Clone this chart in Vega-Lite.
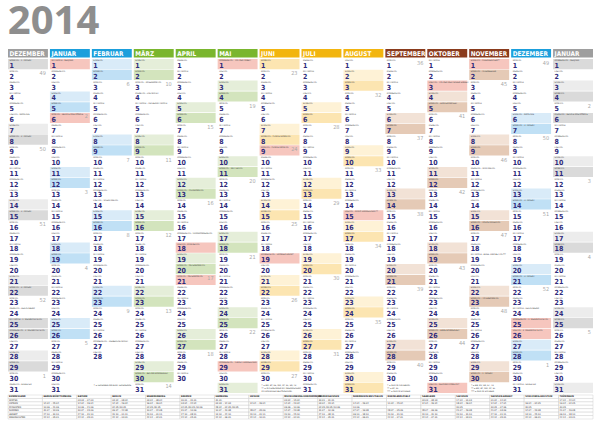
{
"$schema":"https://vega.github.io/schema/vega-lite/v6.json",
"background":"white",
"padding":{"left":7,"top":2,"right":0,"bottom":0},
"title":{"text":"2014","anchor":"start","fontSize":40,"font":"Open Sans","fontWeight":"bold","color":"#8e8e8e","offset":7},
"config":{"view":{"stroke":null},"locale":{"time":{"dateTime":"%A, %e. %B %Y, %X","date":"%d.%m.%Y","time":"%H:%M:%S","periods":["AM","PM"],"days":["SONNTAG","MONTAG","DIENSTAG","MITTWOCH","DONNERSTAG","FREITAG","SAMSTAG"],"shortDays":["So","Mo","Di","Mi","Do","Fr","Sa"],"months":["JANUAR","FEBRUAR","MÄRZ","APRIL","MAI","JUNI","JULI","AUGUST","SEPTEMBER","OKTOBER","NOVEMBER","DEZEMBER"],"shortMonths":["Jan","Feb","Mär","Apr","Mai","Jun","Jul","Aug","Sep","Okt","Nov","Dez"]}}},
"vconcat":[
{"vconcat":[
{"width":585,"height":8.5,
"data":{"values":[{"d":"2013/12/01"},{"d":"2014/01/01"},{"d":"2014/02/01"},{"d":"2014/03/01"},{"d":"2014/04/01"},{"d":"2014/05/01"},{"d":"2014/06/01"},{"d":"2014/07/01"},{"d":"2014/08/01"},{"d":"2014/09/01"},{"d":"2014/10/01"},{"d":"2014/11/01"},{"d":"2014/12/01"},{"d":"2015/01/01"}],"format":{"parse":{"d":"date"}}},
"encoding":{"x":{"field":"d","timeUnit":"yearmonth","type":"ordinal","axis":null,"scale":{"paddingInner":0.048,"paddingOuter":0}}},
"layer":[
{"mark":{"type":"rect"},"encoding":{"fill":{"field":"d","timeUnit":"yearmonth","type":"ordinal","legend":null,"scale":{"range":["#9e9e9e","#1b9fdc","#1b9fdc","#7ab62e","#7ab62e","#7ab62e","#f2b50f","#f2b50f","#f2b50f","#8a3b1d","#8a3b1d","#8a3b1d","#1b9fdc","#9e9e9e"]}}}},
{"mark":{"type":"text","align":"left","baseline":"middle","dx":1.5,"dy":0.5,"fontSize":6.4,"fontWeight":"bold","fill":"white","font":"DejaVu Sans Condensed, sans-serif"},"encoding":{"x":{"field":"d","timeUnit":"yearmonth","type":"ordinal","axis":null,"bandPosition":0},"text":{"field":"d","type":"temporal","format":"%B"}}}
]},
{"width":585,"height":334,
"data":{"values":[
{"d":"2013/12/01","f":"SONNTAG · 1. ADVENT"},{"d":"2013/12/02"},{"d":"2013/12/03"},{"d":"2013/12/04"},{"d":"2013/12/05"},{"d":"2013/12/06","f":"FREITAG · NIKOLAUS"},{"d":"2013/12/07"},{"d":"2013/12/08","f":"SONNTAG · 2. ADVENT"},{"d":"2013/12/09"},{"d":"2013/12/10"},{"d":"2013/12/11"},{"d":"2013/12/12"},{"d":"2013/12/13"},{"d":"2013/12/14"},{"d":"2013/12/15","f":"SONNTAG · 3. ADVENT"},{"d":"2013/12/16"},{"d":"2013/12/17"},{"d":"2013/12/18"},{"d":"2013/12/19"},{"d":"2013/12/20"},{"d":"2013/12/21"},{"d":"2013/12/22","f":"SONNTAG · 4. ADVENT"},{"d":"2013/12/23"},{"d":"2013/12/24","f":"DIENSTAG · HEILIGABEND"},{"d":"2013/12/25","f":"MITTWOCH · 1. WEIHNACHTSTAG","h":1},{"d":"2013/12/26","f":"DONNERSTAG · 2. WEIHNACHTSTAG","h":1},{"d":"2013/12/27"},{"d":"2013/12/28"},{"d":"2013/12/29"},{"d":"2013/12/30"},{"d":"2013/12/31","f":"DIENSTAG · SILVESTER"},
{"d":"2014/01/01","f":"MITTWOCH · NEUJAHR","h":1},{"d":"2014/01/02"},{"d":"2014/01/03"},{"d":"2014/01/04"},{"d":"2014/01/05"},{"d":"2014/01/06","f":"MONTAG · HEILIGE DREI KÖNIGE","h":1},{"d":"2014/01/07"},{"d":"2014/01/08"},{"d":"2014/01/09"},{"d":"2014/01/10"},{"d":"2014/01/11"},{"d":"2014/01/12"},{"d":"2014/01/13"},{"d":"2014/01/14"},{"d":"2014/01/15"},{"d":"2014/01/16"},{"d":"2014/01/17"},{"d":"2014/01/18"},{"d":"2014/01/19"},{"d":"2014/01/20"},{"d":"2014/01/21"},{"d":"2014/01/22"},{"d":"2014/01/23"},{"d":"2014/01/24"},{"d":"2014/01/25"},{"d":"2014/01/26"},{"d":"2014/01/27"},{"d":"2014/01/28"},{"d":"2014/01/29"},{"d":"2014/01/30"},{"d":"2014/01/31"},
{"d":"2014/02/01"},{"d":"2014/02/02"},{"d":"2014/02/03"},{"d":"2014/02/04"},{"d":"2014/02/05"},{"d":"2014/02/06"},{"d":"2014/02/07"},{"d":"2014/02/08"},{"d":"2014/02/09"},{"d":"2014/02/10"},{"d":"2014/02/11"},{"d":"2014/02/12"},{"d":"2014/02/13"},{"d":"2014/02/14","f":"FREITAG · VALENTINSTAG"},{"d":"2014/02/15"},{"d":"2014/02/16"},{"d":"2014/02/17"},{"d":"2014/02/18"},{"d":"2014/02/19"},{"d":"2014/02/20"},{"d":"2014/02/21"},{"d":"2014/02/22"},{"d":"2014/02/23"},{"d":"2014/02/24"},{"d":"2014/02/25"},{"d":"2014/02/26"},{"d":"2014/02/27","f":"DONNERSTAG · WEIBERFASTNACHT"},{"d":"2014/02/28"},
{"d":"2014/03/01"},{"d":"2014/03/02"},{"d":"2014/03/03","f":"MONTAG · ROSENMONTAG"},{"d":"2014/03/04","f":"DIENSTAG · FASTNACHT"},{"d":"2014/03/05","f":"MITTWOCH · ASCHERMITTWOCH"},{"d":"2014/03/06"},{"d":"2014/03/07"},{"d":"2014/03/08"},{"d":"2014/03/09"},{"d":"2014/03/10"},{"d":"2014/03/11"},{"d":"2014/03/12"},{"d":"2014/03/13"},{"d":"2014/03/14"},{"d":"2014/03/15"},{"d":"2014/03/16"},{"d":"2014/03/17"},{"d":"2014/03/18"},{"d":"2014/03/19"},{"d":"2014/03/20"},{"d":"2014/03/21"},{"d":"2014/03/22"},{"d":"2014/03/23"},{"d":"2014/03/24"},{"d":"2014/03/25"},{"d":"2014/03/26"},{"d":"2014/03/27"},{"d":"2014/03/28"},{"d":"2014/03/29"},{"d":"2014/03/30","f":"SONNTAG · BEGINN SOMMERZEIT"},{"d":"2014/03/31"},
{"d":"2014/04/01"},{"d":"2014/04/02"},{"d":"2014/04/03"},{"d":"2014/04/04"},{"d":"2014/04/05"},{"d":"2014/04/06"},{"d":"2014/04/07"},{"d":"2014/04/08"},{"d":"2014/04/09"},{"d":"2014/04/10"},{"d":"2014/04/11"},{"d":"2014/04/12"},{"d":"2014/04/13","f":"SONNTAG · PALMSONNTAG"},{"d":"2014/04/14"},{"d":"2014/04/15"},{"d":"2014/04/16"},{"d":"2014/04/17","f":"DONNERSTAG · GRÜNDONNERSTAG"},{"d":"2014/04/18","f":"FREITAG · KARFREITAG","h":1},{"d":"2014/04/19"},{"d":"2014/04/20","f":"SONNTAG · OSTERSONNTAG"},{"d":"2014/04/21","f":"MONTAG · OSTERMONTAG","h":1},{"d":"2014/04/22"},{"d":"2014/04/23"},{"d":"2014/04/24"},{"d":"2014/04/25"},{"d":"2014/04/26"},{"d":"2014/04/27"},{"d":"2014/04/28"},{"d":"2014/04/29"},{"d":"2014/04/30"},
{"d":"2014/05/01","f":"DONNERSTAG · TAG DER ARBEIT","h":1},{"d":"2014/05/02"},{"d":"2014/05/03"},{"d":"2014/05/04"},{"d":"2014/05/05"},{"d":"2014/05/06"},{"d":"2014/05/07"},{"d":"2014/05/08"},{"d":"2014/05/09"},{"d":"2014/05/10"},{"d":"2014/05/11","f":"SONNTAG · MUTTERTAG"},{"d":"2014/05/12"},{"d":"2014/05/13"},{"d":"2014/05/14"},{"d":"2014/05/15"},{"d":"2014/05/16"},{"d":"2014/05/17"},{"d":"2014/05/18"},{"d":"2014/05/19"},{"d":"2014/05/20"},{"d":"2014/05/21"},{"d":"2014/05/22"},{"d":"2014/05/23"},{"d":"2014/05/24"},{"d":"2014/05/25"},{"d":"2014/05/26"},{"d":"2014/05/27"},{"d":"2014/05/28"},{"d":"2014/05/29","f":"DONNERSTAG · CHRISTI HIMMELFAHRT","h":1},{"d":"2014/05/30"},{"d":"2014/05/31"},
{"d":"2014/06/01"},{"d":"2014/06/02"},{"d":"2014/06/03"},{"d":"2014/06/04"},{"d":"2014/06/05"},{"d":"2014/06/06"},{"d":"2014/06/07"},{"d":"2014/06/08","f":"SONNTAG · PFINGSTSONNTAG"},{"d":"2014/06/09","f":"MONTAG · PFINGSTMONTAG","h":1},{"d":"2014/06/10"},{"d":"2014/06/11"},{"d":"2014/06/12"},{"d":"2014/06/13"},{"d":"2014/06/14"},{"d":"2014/06/15"},{"d":"2014/06/16"},{"d":"2014/06/17"},{"d":"2014/06/18"},{"d":"2014/06/19","f":"DONNERSTAG · FRONLEICHNAM*","h":1},{"d":"2014/06/20"},{"d":"2014/06/21"},{"d":"2014/06/22"},{"d":"2014/06/23"},{"d":"2014/06/24"},{"d":"2014/06/25"},{"d":"2014/06/26"},{"d":"2014/06/27"},{"d":"2014/06/28"},{"d":"2014/06/29"},{"d":"2014/06/30"},
{"d":"2014/07/01"},{"d":"2014/07/02"},{"d":"2014/07/03"},{"d":"2014/07/04"},{"d":"2014/07/05"},{"d":"2014/07/06"},{"d":"2014/07/07"},{"d":"2014/07/08"},{"d":"2014/07/09"},{"d":"2014/07/10"},{"d":"2014/07/11"},{"d":"2014/07/12"},{"d":"2014/07/13"},{"d":"2014/07/14"},{"d":"2014/07/15"},{"d":"2014/07/16"},{"d":"2014/07/17"},{"d":"2014/07/18"},{"d":"2014/07/19"},{"d":"2014/07/20"},{"d":"2014/07/21"},{"d":"2014/07/22"},{"d":"2014/07/23"},{"d":"2014/07/24"},{"d":"2014/07/25"},{"d":"2014/07/26"},{"d":"2014/07/27"},{"d":"2014/07/28"},{"d":"2014/07/29"},{"d":"2014/07/30"},{"d":"2014/07/31"},
{"d":"2014/08/01"},{"d":"2014/08/02"},{"d":"2014/08/03"},{"d":"2014/08/04"},{"d":"2014/08/05"},{"d":"2014/08/06"},{"d":"2014/08/07"},{"d":"2014/08/08"},{"d":"2014/08/09"},{"d":"2014/08/10"},{"d":"2014/08/11"},{"d":"2014/08/12"},{"d":"2014/08/13"},{"d":"2014/08/14"},{"d":"2014/08/15","f":"FREITAG · MARIÄ HIMMELFAHRT**","h":1},{"d":"2014/08/16"},{"d":"2014/08/17"},{"d":"2014/08/18"},{"d":"2014/08/19"},{"d":"2014/08/20"},{"d":"2014/08/21"},{"d":"2014/08/22"},{"d":"2014/08/23"},{"d":"2014/08/24"},{"d":"2014/08/25"},{"d":"2014/08/26"},{"d":"2014/08/27"},{"d":"2014/08/28"},{"d":"2014/08/29"},{"d":"2014/08/30"},{"d":"2014/08/31"},
{"d":"2014/09/01"},{"d":"2014/09/02"},{"d":"2014/09/03"},{"d":"2014/09/04"},{"d":"2014/09/05"},{"d":"2014/09/06"},{"d":"2014/09/07"},{"d":"2014/09/08"},{"d":"2014/09/09"},{"d":"2014/09/10"},{"d":"2014/09/11"},{"d":"2014/09/12"},{"d":"2014/09/13"},{"d":"2014/09/14"},{"d":"2014/09/15"},{"d":"2014/09/16"},{"d":"2014/09/17"},{"d":"2014/09/18"},{"d":"2014/09/19"},{"d":"2014/09/20"},{"d":"2014/09/21"},{"d":"2014/09/22"},{"d":"2014/09/23"},{"d":"2014/09/24"},{"d":"2014/09/25"},{"d":"2014/09/26"},{"d":"2014/09/27"},{"d":"2014/09/28"},{"d":"2014/09/29"},{"d":"2014/09/30"},
{"d":"2014/10/01"},{"d":"2014/10/02"},{"d":"2014/10/03","f":"FREITAG · TAG DER DEUTSCHEN EINHEIT","h":1},{"d":"2014/10/04"},{"d":"2014/10/05","f":"SONNTAG · ERNTEDANKFEST"},{"d":"2014/10/06"},{"d":"2014/10/07"},{"d":"2014/10/08"},{"d":"2014/10/09"},{"d":"2014/10/10"},{"d":"2014/10/11"},{"d":"2014/10/12"},{"d":"2014/10/13"},{"d":"2014/10/14"},{"d":"2014/10/15"},{"d":"2014/10/16"},{"d":"2014/10/17"},{"d":"2014/10/18"},{"d":"2014/10/19"},{"d":"2014/10/20"},{"d":"2014/10/21"},{"d":"2014/10/22"},{"d":"2014/10/23"},{"d":"2014/10/24"},{"d":"2014/10/25"},{"d":"2014/10/26","f":"SONNTAG · ENDE SOMMERZEIT"},{"d":"2014/10/27"},{"d":"2014/10/28"},{"d":"2014/10/29"},{"d":"2014/10/30"},{"d":"2014/10/31","f":"FREITAG · REFORMATIONSTAG*","h":1},
{"d":"2014/11/01","f":"SAMSTAG · ALLERHEILIGEN**","h":1},{"d":"2014/11/02","f":"SONNTAG · ALLERSEELEN"},{"d":"2014/11/03"},{"d":"2014/11/04"},{"d":"2014/11/05"},{"d":"2014/11/06"},{"d":"2014/11/07"},{"d":"2014/11/08"},{"d":"2014/11/09"},{"d":"2014/11/10"},{"d":"2014/11/11","f":"DIENSTAG · MARTINSTAG"},{"d":"2014/11/12"},{"d":"2014/11/13"},{"d":"2014/11/14"},{"d":"2014/11/15"},{"d":"2014/11/16","f":"SONNTAG · VOLKSTRAUERTAG"},{"d":"2014/11/17"},{"d":"2014/11/18"},{"d":"2014/11/19","f":"MITTWOCH · BUSS- UND BETTAG***"},{"d":"2014/11/20"},{"d":"2014/11/21"},{"d":"2014/11/22"},{"d":"2014/11/23","f":"SONNTAG · TOTENSONNTAG"},{"d":"2014/11/24"},{"d":"2014/11/25"},{"d":"2014/11/26"},{"d":"2014/11/27"},{"d":"2014/11/28"},{"d":"2014/11/29"},{"d":"2014/11/30","f":"SONNTAG · 1. ADVENT"},
{"d":"2014/12/01"},{"d":"2014/12/02"},{"d":"2014/12/03"},{"d":"2014/12/04"},{"d":"2014/12/05"},{"d":"2014/12/06","f":"SAMSTAG · NIKOLAUS"},{"d":"2014/12/07","f":"SONNTAG · 2. ADVENT"},{"d":"2014/12/08"},{"d":"2014/12/09"},{"d":"2014/12/10"},{"d":"2014/12/11"},{"d":"2014/12/12"},{"d":"2014/12/13"},{"d":"2014/12/14","f":"SONNTAG · 3. ADVENT"},{"d":"2014/12/15"},{"d":"2014/12/16"},{"d":"2014/12/17"},{"d":"2014/12/18"},{"d":"2014/12/19"},{"d":"2014/12/20"},{"d":"2014/12/21","f":"SONNTAG · 4. ADVENT"},{"d":"2014/12/22"},{"d":"2014/12/23"},{"d":"2014/12/24","f":"MITTWOCH · HEILIGABEND"},{"d":"2014/12/25","f":"DONNERSTAG · 1. WEIHNACHTSTAG","h":1},{"d":"2014/12/26","f":"FREITAG · 2. WEIHNACHTSTAG","h":1},{"d":"2014/12/27"},{"d":"2014/12/28"},{"d":"2014/12/29"},{"d":"2014/12/30"},{"d":"2014/12/31","f":"MITTWOCH · SILVESTER"},
{"d":"2015/01/01","f":"DONNERSTAG · NEUJAHR","h":1},{"d":"2015/01/02"},{"d":"2015/01/03"},{"d":"2015/01/04"},{"d":"2015/01/05"},{"d":"2015/01/06","f":"DIENSTAG · HEILIGE DREI KÖNIGE","h":1},{"d":"2015/01/07"},{"d":"2015/01/08"},{"d":"2015/01/09"},{"d":"2015/01/10"},{"d":"2015/01/11"},{"d":"2015/01/12"},{"d":"2015/01/13"},{"d":"2015/01/14"},{"d":"2015/01/15"},{"d":"2015/01/16"},{"d":"2015/01/17"},{"d":"2015/01/18"},{"d":"2015/01/19"},{"d":"2015/01/20"},{"d":"2015/01/21"},{"d":"2015/01/22"},{"d":"2015/01/23"},{"d":"2015/01/24"},{"d":"2015/01/25"},{"d":"2015/01/26"},{"d":"2015/01/27"},{"d":"2015/01/28"},{"d":"2015/01/29"},{"d":"2015/01/30"},{"d":"2015/01/31"}
],"format":{"parse":{"d":"date"}}},
"encoding":{
"x":{"field":"d","timeUnit":"yearmonth","type":"ordinal","axis":null,"scale":{"paddingInner":0.048,"paddingOuter":0}},
"y":{"field":"d","timeUnit":"date","type":"ordinal","axis":null,"scale":{"paddingInner":0.06,"paddingOuter":0}}
},
"layer":[
{"transform":[{"filter":"day(datum.d)===6"}],"mark":{"type":"rect"},"encoding":{"fill":{"field":"d","timeUnit":"yearmonth","type":"ordinal","legend":null,"scale":{"range":["#ececec","#d9ebf8","#d9ebf8","#e5eed9","#e5eed9","#e5eed9","#fef2d6","#fef2d6","#fef2d6","#f2e2d6","#f2e2d6","#f2e2d6","#d9ebf8","#ececec"]}}}},
{"transform":[{"filter":"day(datum.d)===0 || (datum.h===1 && year(datum.d)!==2014)"}],"mark":{"type":"rect"},"encoding":{"fill":{"field":"d","timeUnit":"yearmonth","type":"ordinal","legend":null,"scale":{"range":["#dadada","#c0e0f5","#c0e0f5","#d3e4bd","#d3e4bd","#d3e4bd","#fce5b1","#fce5b1","#fce5b1","#e5cab6","#e5cab6","#e5cab6","#c0e0f5","#dadada"]}}}},
{"transform":[{"filter":"datum.h===1 && year(datum.d)===2014"}],"mark":{"type":"rect","color":"#f6c6be"}},
{"transform":[{"filter":"!datum.f"}],"mark":{"type":"text","align":"left","baseline":"middle","dx":1.5,"dy":1.2,"fontSize":2.2,"fill":"#444444","font":"DejaVu Sans Condensed, sans-serif"},"encoding":{"x":{"field":"d","timeUnit":"yearmonth","type":"ordinal","bandPosition":0},"y":{"field":"d","timeUnit":"date","type":"ordinal","bandPosition":0},"text":{"field":"d","type":"temporal","format":"%A"}}},
{"transform":[{"filter":"datum.f"}],"mark":{"type":"text","align":"left","baseline":"middle","dx":1.5,"dy":1.2,"fontSize":2.2,"fill":"#444444","font":"DejaVu Sans Condensed, sans-serif"},"encoding":{"x":{"field":"d","timeUnit":"yearmonth","type":"ordinal","bandPosition":0},"y":{"field":"d","timeUnit":"date","type":"ordinal","bandPosition":0},"text":{"field":"f","type":"nominal"}}},
{"mark":{"type":"text","align":"left","baseline":"alphabetic","dx":1.5,"dy":-1.2,"fontSize":7,"fontWeight":"bold","fill":"#2e2a7b","font":"DejaVu Sans Condensed, sans-serif"},"encoding":{"x":{"field":"d","timeUnit":"yearmonth","type":"ordinal","bandPosition":0},"y":{"field":"d","timeUnit":"date","type":"ordinal","bandPosition":1},"text":{"field":"d","type":"temporal","format":"%-d"}}},
{"transform":[{"filter":"day(datum.d)===1"}],"mark":{"type":"text","align":"right","baseline":"middle","dx":-2,"dy":3.5,"fontSize":5.5,"fill":"#a8a8a8","font":"DejaVu Sans Condensed, sans-serif"},"encoding":{"x":{"field":"d","timeUnit":"yearmonth","type":"ordinal","bandPosition":1},"y":{"field":"d","timeUnit":"date","type":"ordinal","bandPosition":0},"text":{"field":"d","type":"temporal","format":"%-V"}}},
{"data":{"values":[
{"m":"2014/02/01","z":"2014/01/31","t":"* = FERIENBEGINN BZW. FERIENENDE"},
{"m":"2014/06/01","z":"2014/01/31","t":"* = BW, BY, HE, NW, RP, SL, SN, TH\n** = IN GEMEINDEN MIT ÜBERWIEGEND\nKATHOLISCHER BEVÖLKERUNG"},
{"m":"2014/09/01","z":"2014/01/31","t":"* = NUR IN AUGSBURG\n** = BY, SL\n*** = NUR IN SACHSEN"},
{"m":"2014/11/01","z":"2014/01/31","t":"* = BB, MV, SN, ST, TH\n** = BW, BY, NW, RP, SL\n*** = NUR IN SACHSEN"}
],"format":{"parse":{"m":"date","z":"date"}}},
"mark":{"type":"text","align":"left","baseline":"top","dx":2,"dy":1.5,"fontSize":2.2,"lineHeight":2.8,"lineBreak":"\n","fill":"#444444","font":"DejaVu Sans Condensed, sans-serif"},
"encoding":{"x":{"field":"m","timeUnit":"yearmonth","type":"ordinal","bandPosition":0},"y":{"field":"z","timeUnit":"date","type":"ordinal","bandPosition":0},"text":{"field":"t","type":"nominal"}}}
],
"resolve":{"scale":{"fill":"independent"}}
}
],"spacing":1},
{"width":585,"height":24,
"data":{"values":[
{"sp":"BUNDESLAND","z":"KOPF","v":"BUNDESLAND"},{"sp":"BUNDESLAND","z":"WINTER","v":"WINTER"},{"sp":"BUNDESLAND","z":"OSTERN","v":"OSTERN"},{"sp":"BUNDESLAND","z":"PFINGSTEN","v":"PFINGSTEN"},{"sp":"BUNDESLAND","z":"SOMMER","v":"SOMMER"},{"sp":"BUNDESLAND","z":"HERBST","v":"HERBST"},{"sp":"BUNDESLAND","z":"WEIHNACHTEN","v":"WEIHNACHTEN"},
{"sp":"BADEN-WÜRTTEMBERG","z":"KOPF","v":"BADEN-WÜRTTEMBERG"},{"sp":"BADEN-WÜRTTEMBERG","z":"WINTER","v":""},{"sp":"BADEN-WÜRTTEMBERG","z":"OSTERN","v":"14.04. – 25.04."},{"sp":"BADEN-WÜRTTEMBERG","z":"PFINGSTEN","v":"10.06. – 21.06."},{"sp":"BADEN-WÜRTTEMBERG","z":"SOMMER","v":"31.07. – 13.09."},{"sp":"BADEN-WÜRTTEMBERG","z":"HERBST","v":"27.10. – 30.10."},{"sp":"BADEN-WÜRTTEMBERG","z":"WEIHNACHTEN","v":"22.12. – 05.01."},
{"sp":"BAYERN","z":"KOPF","v":"BAYERN"},{"sp":"BAYERN","z":"WINTER","v":"03.03. – 07.03."},{"sp":"BAYERN","z":"OSTERN","v":"14.04. – 26.04."},{"sp":"BAYERN","z":"PFINGSTEN","v":"10.06. – 21.06."},{"sp":"BAYERN","z":"SOMMER","v":"30.07. – 15.09."},{"sp":"BAYERN","z":"HERBST","v":"27.10. – 31.10."},{"sp":"BAYERN","z":"WEIHNACHTEN","v":"24.12. – 05.01."},
{"sp":"BERLIN","z":"KOPF","v":"BERLIN"},{"sp":"BERLIN","z":"WINTER","v":"03.02. – 08.02."},{"sp":"BERLIN","z":"OSTERN","v":"14.04. – 26.04."},{"sp":"BERLIN","z":"PFINGSTEN","v":"02.05./30.05."},{"sp":"BERLIN","z":"SOMMER","v":"09.07. – 22.08."},{"sp":"BERLIN","z":"HERBST","v":"20.10. – 01.11."},{"sp":"BERLIN","z":"WEIHNACHTEN","v":"22.12. – 03.01."},
{"sp":"BRANDENBURG","z":"KOPF","v":"BRANDENBURG"},{"sp":"BRANDENBURG","z":"WINTER","v":"03.02. – 08.02."},{"sp":"BRANDENBURG","z":"OSTERN","v":"16.04. – 26.04."},{"sp":"BRANDENBURG","z":"PFINGSTEN","v":"02.05./30.05."},{"sp":"BRANDENBURG","z":"SOMMER","v":"10.07. – 22.08."},{"sp":"BRANDENBURG","z":"HERBST","v":"20.10. – 01.11."},{"sp":"BRANDENBURG","z":"WEIHNACHTEN","v":"22.12. – 02.01."},
{"sp":"BREMEN","z":"KOPF","v":"BREMEN"},{"sp":"BREMEN","z":"WINTER","v":"30.01. – 31.01."},{"sp":"BREMEN","z":"OSTERN","v":"03.04. – 22.04."},{"sp":"BREMEN","z":"PFINGSTEN","v":"02.05./30.05./10.06."},{"sp":"BREMEN","z":"SOMMER","v":"31.07. – 10.09."},{"sp":"BREMEN","z":"HERBST","v":"27.10. – 08.11."},{"sp":"BREMEN","z":"WEIHNACHTEN","v":"22.12. – 05.01."},
{"sp":"HAMBURG","z":"KOPF","v":"HAMBURG"},{"sp":"HAMBURG","z":"WINTER","v":"31.01."},{"sp":"HAMBURG","z":"OSTERN","v":"03.03. – 14.03."},{"sp":"HAMBURG","z":"PFINGSTEN","v":"28.04. – 02.05./30.05."},{"sp":"HAMBURG","z":"SOMMER","v":"10.07. – 20.08."},{"sp":"HAMBURG","z":"HERBST","v":"13.10. – 24.10."},{"sp":"HAMBURG","z":"WEIHNACHTEN","v":"22.12. – 06.01."},
{"sp":"HESSEN","z":"KOPF","v":"HESSEN"},{"sp":"HESSEN","z":"WINTER","v":""},{"sp":"HESSEN","z":"OSTERN","v":"14.04. – 26.04."},{"sp":"HESSEN","z":"PFINGSTEN","v":""},{"sp":"HESSEN","z":"SOMMER","v":"28.07. – 05.09."},{"sp":"HESSEN","z":"HERBST","v":"20.10. – 01.11."},{"sp":"HESSEN","z":"WEIHNACHTEN","v":"22.12. – 10.01."},
{"sp":"MECKLENBURG-VORPOMMERN","z":"KOPF","v":"MECKLENBURG-VORPOMMERN"},{"sp":"MECKLENBURG-VORPOMMERN","z":"WINTER","v":"03.02. – 15.02."},{"sp":"MECKLENBURG-VORPOMMERN","z":"OSTERN","v":"14.04. – 23.04."},{"sp":"MECKLENBURG-VORPOMMERN","z":"PFINGSTEN","v":"06.06. – 10.06."},{"sp":"MECKLENBURG-VORPOMMERN","z":"SOMMER","v":"14.07. – 23.08."},{"sp":"MECKLENBURG-VORPOMMERN","z":"HERBST","v":"20.10. – 25.10."},{"sp":"MECKLENBURG-VORPOMMERN","z":"WEIHNACHTEN","v":"22.12. – 02.01."},
{"sp":"NIEDERSACHSEN","z":"KOPF","v":"NIEDERSACHSEN"},{"sp":"NIEDERSACHSEN","z":"WINTER","v":"30.01. – 31.01."},{"sp":"NIEDERSACHSEN","z":"OSTERN","v":"03.04. – 23.04."},{"sp":"NIEDERSACHSEN","z":"PFINGSTEN","v":"02.05./30.05./10.06."},{"sp":"NIEDERSACHSEN","z":"SOMMER","v":"31.07. – 10.09."},{"sp":"NIEDERSACHSEN","z":"HERBST","v":"27.10. – 08.11."},{"sp":"NIEDERSACHSEN","z":"WEIHNACHTEN","v":"22.12. – 05.01."},
{"sp":"NORDRHEIN-WESTFALEN","z":"KOPF","v":"NORDRHEIN-WESTFALEN"},{"sp":"NORDRHEIN-WESTFALEN","z":"WINTER","v":""},{"sp":"NORDRHEIN-WESTFALEN","z":"OSTERN","v":"14.04. – 26.04."},{"sp":"NORDRHEIN-WESTFALEN","z":"PFINGSTEN","v":"10.06."},{"sp":"NORDRHEIN-WESTFALEN","z":"SOMMER","v":"07.07. – 19.08."},{"sp":"NORDRHEIN-WESTFALEN","z":"HERBST","v":"06.10. – 18.10."},{"sp":"NORDRHEIN-WESTFALEN","z":"WEIHNACHTEN","v":"22.12. – 06.01."},
{"sp":"RHEINLAND-PFALZ","z":"KOPF","v":"RHEINLAND-PFALZ"},{"sp":"RHEINLAND-PFALZ","z":"WINTER","v":""},{"sp":"RHEINLAND-PFALZ","z":"OSTERN","v":"11.04. – 25.04."},{"sp":"RHEINLAND-PFALZ","z":"PFINGSTEN","v":""},{"sp":"RHEINLAND-PFALZ","z":"SOMMER","v":"28.07. – 05.09."},{"sp":"RHEINLAND-PFALZ","z":"HERBST","v":"20.10. – 31.10."},{"sp":"RHEINLAND-PFALZ","z":"WEIHNACHTEN","v":"22.12. – 07.01."},
{"sp":"SAARLAND","z":"KOPF","v":"SAARLAND"},{"sp":"SAARLAND","z":"WINTER","v":"03.03. – 08.03."},{"sp":"SAARLAND","z":"OSTERN","v":"14.04. – 26.04."},{"sp":"SAARLAND","z":"PFINGSTEN","v":""},{"sp":"SAARLAND","z":"SOMMER","v":"28.07. – 06.09."},{"sp":"SAARLAND","z":"HERBST","v":"20.10. – 31.10."},{"sp":"SAARLAND","z":"WEIHNACHTEN","v":"22.12. – 07.01."},
{"sp":"SACHSEN","z":"KOPF","v":"SACHSEN"},{"sp":"SACHSEN","z":"WINTER","v":"17.02. – 01.03."},{"sp":"SACHSEN","z":"OSTERN","v":"18.04. – 26.04."},{"sp":"SACHSEN","z":"PFINGSTEN","v":"30.05."},{"sp":"SACHSEN","z":"SOMMER","v":"21.07. – 29.08."},{"sp":"SACHSEN","z":"HERBST","v":"20.10. – 31.10."},{"sp":"SACHSEN","z":"WEIHNACHTEN","v":"22.12. – 03.01."},
{"sp":"SACHSEN-ANHALT","z":"KOPF","v":"SACHSEN-ANHALT"},{"sp":"SACHSEN-ANHALT","z":"WINTER","v":"01.02. – 12.02."},{"sp":"SACHSEN-ANHALT","z":"OSTERN","v":"14.04. – 17.04."},{"sp":"SACHSEN-ANHALT","z":"PFINGSTEN","v":"30.05. – 07.06."},{"sp":"SACHSEN-ANHALT","z":"SOMMER","v":"21.07. – 03.09."},{"sp":"SACHSEN-ANHALT","z":"HERBST","v":"27.10. – 01.11."},{"sp":"SACHSEN-ANHALT","z":"WEIHNACHTEN","v":"22.12. – 05.01."},
{"sp":"SCHLESWIG-HOLSTEIN","z":"KOPF","v":"SCHLESWIG-HOLSTEIN"},{"sp":"SCHLESWIG-HOLSTEIN","z":"WINTER","v":""},{"sp":"SCHLESWIG-HOLSTEIN","z":"OSTERN","v":"16.04. – 02.05."},{"sp":"SCHLESWIG-HOLSTEIN","z":"PFINGSTEN","v":"30.05."},{"sp":"SCHLESWIG-HOLSTEIN","z":"SOMMER","v":"14.07. – 23.08."},{"sp":"SCHLESWIG-HOLSTEIN","z":"HERBST","v":"13.10. – 25.10."},{"sp":"SCHLESWIG-HOLSTEIN","z":"WEIHNACHTEN","v":"22.12. – 06.01."},
{"sp":"THÜRINGEN","z":"KOPF","v":"THÜRINGEN"},{"sp":"THÜRINGEN","z":"WINTER","v":"17.02. – 22.02."},{"sp":"THÜRINGEN","z":"OSTERN","v":"19.04. – 02.05."},{"sp":"THÜRINGEN","z":"PFINGSTEN","v":"30.05."},{"sp":"THÜRINGEN","z":"SOMMER","v":"21.07. – 29.08."},{"sp":"THÜRINGEN","z":"HERBST","v":"06.10. – 18.10."},{"sp":"THÜRINGEN","z":"WEIHNACHTEN","v":"22.12. – 03.01."}
]},
"encoding":{
"x":{"field":"sp","type":"ordinal","axis":null,"scale":{"domain":["BUNDESLAND","BADEN-WÜRTTEMBERG","BAYERN","BERLIN","BRANDENBURG","BREMEN","HAMBURG","HESSEN","MECKLENBURG-VORPOMMERN","NIEDERSACHSEN","NORDRHEIN-WESTFALEN","RHEINLAND-PFALZ","SAARLAND","SACHSEN","SACHSEN-ANHALT","SCHLESWIG-HOLSTEIN","THÜRINGEN"],"paddingInner":0,"paddingOuter":0}},
"y":{"field":"z","type":"ordinal","axis":null,"scale":{"domain":["KOPF","WINTER","OSTERN","PFINGSTEN","SOMMER","HERBST","WEIHNACHTEN"],"paddingInner":0,"paddingOuter":0}}
},
"layer":[
{"mark":{"type":"rect","fill":"white","stroke":"#c4c4c4","strokeWidth":0.4}},
{"transform":[{"filter":"datum.z !== 'KOPF'"}],"mark":{"type":"text","align":"left","baseline":"middle","dx":1,"fontSize":2.4,"fill":"#333333","font":"DejaVu Sans Condensed, sans-serif"},"encoding":{"x":{"field":"sp","type":"ordinal","bandPosition":0},"text":{"field":"v","type":"nominal"}}},
{"transform":[{"filter":"datum.z === 'KOPF'"}],"mark":{"type":"text","align":"left","baseline":"middle","dx":1,"fontSize":2.4,"fontWeight":"bold","fill":"#222222","font":"DejaVu Sans Condensed, sans-serif"},"encoding":{"x":{"field":"sp","type":"ordinal","bandPosition":0},"text":{"field":"v","type":"nominal"}}}
]}
],"spacing":1
}
